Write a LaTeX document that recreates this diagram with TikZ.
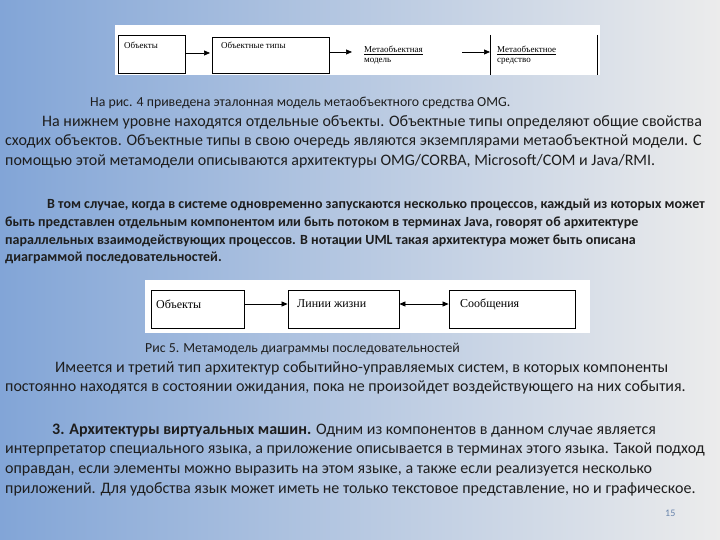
\documentclass[tikz,border=0pt]{standalone}
\usepackage{fontspec}
\setmainfont{Carlito}
\newfontfamily\serf{Liberation Serif}
\usetikzlibrary{arrows.meta}
\definecolor{bgL}{RGB}{130,165,215}
\definecolor{bgR}{RGB}{236,236,236}
\definecolor{txt}{RGB}{30,30,30}
\begin{document}
\begin{tikzpicture}[x=1pt,y=-1pt,
  ln/.style={anchor=base west,inner sep=0pt,text=txt,font=\fontsize{16}{17}\selectfont},
  bl/.style={anchor=base west,inner sep=0pt,text=txt,font=\fontsize{14}{15}\selectfont\bfseries},
  sm/.style={anchor=base west,inner sep=0pt,text=txt,font=\fontsize{13.8}{15}\selectfont},
  bx/.style={draw=black,line width=0.8pt,fill=white},
  dt/.style={anchor=north west,inner sep=0pt,font=\serf\fontsize{9}{10}\selectfont,align=left},
  dt2/.style={anchor=west,inner sep=0pt,font=\serf\fontsize{12}{13}\selectfont},
  ar/.style={-{Triangle[length=6pt,width=5pt]},line width=0.7pt}]
\shade[left color=bgL,right color=bgR] (0,0) rectangle (720,540);
\useasboundingbox (0,0) rectangle (720,540);
% top diagram
\fill[white] (115,25) rectangle (600,75);
\begin{scope}
\clip (115,25) rectangle (600,75);
\draw[bx] (118,35) rectangle (185,73);
\draw[bx] (212,37) rectangle (329,73);
\draw[line width=0.8pt] (490,35) -- (490,80);
\draw[line width=0.8pt] (597,35) -- (597,80);
\end{scope}
\node[dt] (o1) at (124,42) {Объекты};
\node[dt] (o2) at (221,42) {Объектные типы};
\node[dt] (o3) at (364,46) {\underline{Метаобъектная}\\модель};
\node[dt] (o4) at (497,46) {\underline{Метаобъектное}\\средство};
\coordinate (a1s) at (185,53); \coordinate (a1e) at (210,53);
\coordinate (a2s) at (329,52); \coordinate (a2e) at (352,52);
\coordinate (a3s) at (462,52); \coordinate (a3e) at (490,52);
\draw[ar] (a1s) -- (a1e);
\draw[ar] (a2s) -- (a2e);
\draw[ar] (a3s) -- (a3e);
% text
\node[sm] (t0) at (90,107) {На рис. 4 приведена эталонная модель метаобъектного средства OMG.};
\node[ln] (t1) at (42,127) {На нижнем уровне находятся отдельные объекты. Объектные типы определяют общие свойства};
\node[ln] (t2) at (5,146) {сходих объектов. Объектные типы в свою очередь являются экземплярами метаобъектной модели. С};
\node[ln] (t3) at (5,166) {помощью этой метамодели описываются архитектуры OMG/CORBA, Microsoft/COM и Java/RMI.};
\node[bl] (b1) at (47,209) {В том случае, когда в системе одновременно запускаются несколько процессов, каждый из которых может};
\node[bl] (b2) at (5,226) {быть представлен отдельным компонентом или быть потоком в терминах Java, говорят об архитектуре};
\node[bl] (b3) at (5,244) {параллельных взаимодействующих процессов. В нотации UML такая архитектура может быть описана};
\node[bl] (b4) at (5,261) {диаграммой последовательностей.};
% second diagram
\fill[white] (145,280) rectangle (590,333);
\node[bx,minimum width=93pt,minimum height=38pt] (s1) at (197.5,309) {};
\node[bx,minimum width=111pt,minimum height=38pt] (s2) at (343.5,309) {};
\node[bx,minimum width=126pt,minimum height=38pt] (s3) at (512,309) {};
\node[dt2] at (156,304) {Объекты};
\node[dt2] at (297,304) {Линии жизни};
\node[dt2] at (460,304) {Сообщения};
\draw[ar] (s1.east |- 0,304) -- (s2.west |- 0,304);
\draw[{Triangle[length=6pt,width=5pt]}-{Triangle[length=6pt,width=5pt]},line width=0.7pt] (s2.east |- 0,304) -- (s3.west |- 0,304);
\node[sm] (cap) at (145,352) {Рис 5. Метамодель диаграммы последовательностей};
\node[ln] (u1) at (55,372) {Имеется и третий тип архитектур событийно-управляемых систем, в которых компоненты};
\node[ln] (u2) at (5,391) {постоянно находятся в состоянии ожидания, пока не произойдет воздействующего на них события.};
\node[ln] (v1) at (52,434) {\textbf{3. Архитектуры виртуальных машин.} Одним из компонентов в данном случае является};
\node[ln] (v2) at (5,453) {интерпретатор специального языка, а приложение описывается в терминах этого языка. Такой подход};
\node[ln] (v3) at (5,473) {оправдан, если элементы можно выразить на этом языке, а также если реализуется несколько};
\node[ln] (v4) at (5,493) {приложений. Для удобства язык может иметь не только текстовое представление, но и графическое.};
\node[anchor=base west,inner sep=0pt,text=bgL!80!black,font=\fontsize{10}{11}\selectfont] (pn) at (665,516) {15};
\end{tikzpicture}
\end{document}
